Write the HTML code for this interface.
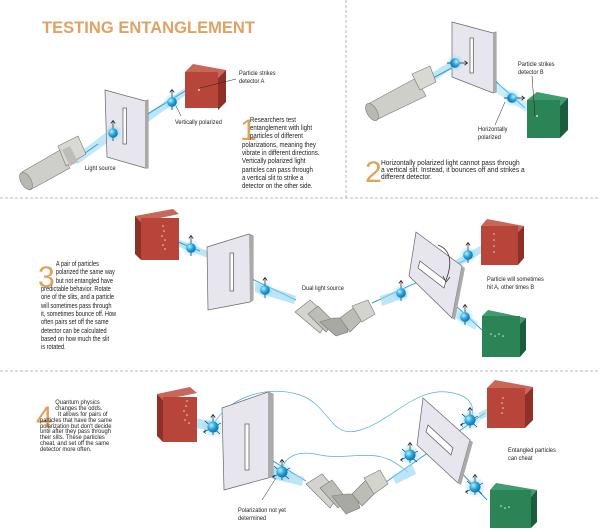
<!DOCTYPE html>
<html><head><meta charset="utf-8"><style>
html,body{margin:0;padding:0;background:#fff;}
svg{display:block;}
text{font-family:"Liberation Sans Narrow","Liberation Sans",sans-serif;fill:#222;}
.t{font-size:7.6px;}
.s{font-size:6.4px;}
.n{font-family:"Liberation Sans",sans-serif;fill:#e0a15c;font-size:30px;}
</style></head><body>
<svg width="600" height="530" viewBox="0 0 600 530" xmlns="http://www.w3.org/2000/svg">
<defs>
<radialGradient id="pg" cx="0.35" cy="0.35" r="0.7"><stop offset="0" stop-color="#bff0ff"/><stop offset="0.5" stop-color="#2aa8e0"/><stop offset="1" stop-color="#0a6fa8"/></radialGradient>
<radialGradient id="glow" cx="0.5" cy="0.5" r="0.5"><stop offset="0" stop-color="#7fd4f5" stop-opacity="0.9"/><stop offset="1" stop-color="#7fd4f5" stop-opacity="0"/></radialGradient>
<g id="p"><circle r="9" fill="url(#glow)"/><line x1="0" y1="-12" x2="0" y2="8" stroke="#222" stroke-width="0.7"/><path d="M-2.2,-9.5 L0,-12.5 L2.2,-9.5" fill="none" stroke="#222" stroke-width="0.8"/><circle r="4.8" fill="url(#pg)"/></g>
<g id="q"><circle r="11" fill="url(#glow)"/><line x1="0" y1="-12" x2="0" y2="8" stroke="#222" stroke-width="0.7"/><path d="M-2.2,-9.5 L0,-12.5 L2.2,-9.5" fill="none" stroke="#222" stroke-width="0.8"/><line x1="-9" y1="5" x2="8" y2="-4" stroke="#222" stroke-width="0.6"/><path d="M-7,6.5 L-9.5,5 L-7,3" fill="none" stroke="#222" stroke-width="0.7"/><line x1="-8" y1="-6" x2="7" y2="7" stroke="#222" stroke-width="0.6"/><circle r="5.5" fill="url(#pg)"/></g>
</defs>

<g stroke="#9aa" stroke-width="0.8" stroke-dasharray="3,2" fill="none">
<line x1="0" y1="198" x2="600" y2="198"/>
<line x1="0" y1="371" x2="600" y2="371"/>
<line x1="346" y1="0" x2="346" y2="198"/>
</g>

<!-- ===== Panel 1 ===== -->
<text x="42" y="33" textLength="213" lengthAdjust="spacingAndGlyphs" style="font-family:'Liberation Sans',sans-serif;font-weight:bold;font-size:16.5px;fill:#e0a264">TESTING ENTANGLEMENT</text>
<polygon points="72,158 112,128 114,138 78,164" fill="#8fd6f3" opacity="0.55"/>
<line x1="78" y1="158" x2="98" y2="144" stroke="#2a9dd6" stroke-width="1"/>
<polygon points="145,115 188,86 190,92 148,122" fill="#8fd6f3" opacity="0.6"/>
<line x1="125" y1="128" x2="190" y2="88" stroke="#2a9dd6" stroke-width="1"/>
<g>
<polygon points="22,172 60,150 70,168 30,190" fill="#cfcfc9" stroke="#777" stroke-width="0.6"/>
<ellipse cx="26" cy="181" rx="5" ry="9.5" transform="rotate(-30 26 181)" fill="#b9b9b3" stroke="#777" stroke-width="0.6"/>
<polygon points="58,146 78,136 86,154 66,166" fill="#d9d9d3" stroke="#777" stroke-width="0.6"/>
<polygon points="62,150 70,146 78,162 70,166" fill="#bdbdb7"/>
</g>
<polygon points="105,90 145,101 148,100 148,168 145,168 107,157" fill="#e7e6ee" stroke="#666" stroke-width="0.7"/>
<polygon points="145,101 148,100 148,168 145,168" fill="#aaa"/>
<rect x="123" y="108" width="3.5" height="36" fill="#fff" stroke="#555" stroke-width="0.7"/>
<use href="#p" x="113" y="133"/>
<use href="#p" x="172" y="102"/>
<polygon points="185,72 193,64 226,70 218,78" fill="#c9665a"/>
<polygon points="218,78 226,70 226,102 218,110" fill="#8e3028"/>
<rect x="185" y="72" width="33" height="36" fill="#b8453a"/>
<circle cx="199" cy="90" r="0.9" fill="#fff"/>
<line x1="200" y1="88" x2="236" y2="79" stroke="#222" stroke-width="0.5"/>
<line x1="176" y1="106" x2="181" y2="116" stroke="#222" stroke-width="0.5"/>
<g transform="matrix(0.88,0,0,1,28.7,0)">
<text class="s" x="239" y="75">Particle strikes</text>
<text class="s" x="239" y="83">detector A</text>
</g>
<g transform="matrix(0.88,0,0,1,21,0)"><text class="s" x="175" y="124">Vertically polarized</text></g>
<g transform="matrix(0.88,0,0,1,10.2,0)"><text class="s" x="85" y="170">Light source</text></g>
<text class="n" x="240" y="140">1</text>
<g transform="matrix(0.8,0,0,1,48.4,0)">
<text class="t" x="252" y="122">Researchers test</text>
<text class="t" x="252" y="130">entanglement with light</text>
<text class="t" x="252" y="138">particles of different</text>
<text class="t" x="242" y="147">polarizations, meaning they</text>
<text class="t" x="242" y="155">vibrate in different directions.</text>
<text class="t" x="242" y="163">Vertically polarized light</text>
<text class="t" x="242" y="172">particles can pass through</text>
<text class="t" x="242" y="180">a vertical slit to strike a</text>
<text class="t" x="242" y="188">detector on the other side.</text>
</g>

<!-- ===== Panel 2 ===== -->
<polygon points="418,82 452,60 454,68 423,88" fill="#8fd6f3" opacity="0.55"/>
<line x1="422" y1="84" x2="470" y2="58" stroke="#2a9dd6" stroke-width="1"/>
<line x1="470" y1="58" x2="525" y2="108" stroke="#2a9dd6" stroke-width="1"/>
<polygon points="460,60 530,104 526,112 458,68" fill="#8fd6f3" opacity="0.45"/>
<polygon points="368,104 416,78 426,96 376,120" fill="#cfcfc9" stroke="#777" stroke-width="0.6"/>
<ellipse cx="372" cy="112" rx="5" ry="9.5" transform="rotate(-30 372 112)" fill="#b9b9b3" stroke="#777" stroke-width="0.6"/>
<polygon points="412,74 430,66 436,82 420,90" fill="#d9d9d3" stroke="#777" stroke-width="0.6"/>
<polygon points="452,22 493,33 496,32 496,92 493,93 452,77" fill="#e7e6ee" stroke="#666" stroke-width="0.7"/>
<polygon points="493,33 496,32 496,92 493,93" fill="#aaa"/>
<rect x="470" y="38" width="3.3" height="35" fill="#fff" stroke="#555" stroke-width="0.7"/>
<use href="#p" x="455" y="63" transform="rotate(90 455 63)"/>
<use href="#p" x="512" y="98" transform="rotate(90 512 98)"/>
<polygon points="527,100 537,92 568,98 560,106" fill="#3f9c6e"/>
<polygon points="560,106 568,98 568,130 560,138" fill="#1b5e3e"/>
<rect x="527" y="100" width="33" height="38" fill="#2a8456"/>
<circle cx="537" cy="116" r="0.9" fill="#fff"/>
<line x1="535" y1="116" x2="532" y2="76" stroke="#222" stroke-width="0.5"/>
<line x1="505" y1="102" x2="495" y2="125" stroke="#222" stroke-width="0.5"/>
<g transform="matrix(0.88,0,0,1,62.2,0)">
<text class="s" x="518" y="66">Particle strikes</text>
<text class="s" x="518" y="74">detector B</text>
</g>
<g transform="matrix(0.88,0,0,1,57.4,0)">
<text class="s" x="478" y="131">Horizontally</text>
<text class="s" x="478" y="139">polarized</text>
</g>
<text class="n" x="365" y="182">2</text>
<g transform="matrix(0.87,0,0,1,49.5,0)">
<text class="t" x="381" y="165">Horizontally polarized light cannot pass through</text>
<text class="t" x="381" y="172">a vertical slit. Instead, it bounces off and strikes a</text>
<text class="t" x="381" y="179">different detector.</text>
</g>

<!-- ===== Panel 3 ===== -->
<text class="n" x="38" y="287">3</text>
<g transform="matrix(0.74,0,0,1,10.7,0)">
<text class="t" x="61" y="266">A pair of particles</text>
<text class="t" x="61" y="274">polarized the same way</text>
<text class="t" x="61" y="283">but not entangled have</text>
<text class="t" x="41" y="291">predictable behavior. Rotate</text>
<text class="t" x="41" y="299">one of the slits, and a particle</text>
<text class="t" x="41" y="308">will sometimes pass through</text>
<text class="t" x="41" y="316">it, sometimes bounce off. How</text>
<text class="t" x="41" y="324">often pairs set off the same</text>
<text class="t" x="41" y="333">detector can be calculated</text>
<text class="t" x="41" y="341">based on how much the slit</text>
<text class="t" x="41" y="349">is rotated.</text>
</g>
<polygon points="175,238 210,252 208,258 176,246" fill="#8fd6f3" opacity="0.6"/>
<line x1="178" y1="242" x2="200" y2="251" stroke="#2a9dd6" stroke-width="1"/>
<line x1="233" y1="270" x2="296" y2="300" stroke="#2a9dd6" stroke-width="1"/>
<polygon points="255,282 296,296 294,304 255,292" fill="#8fd6f3" opacity="0.6"/>
<line x1="372" y1="303" x2="470" y2="258" stroke="#2a9dd6" stroke-width="1"/>
<polygon points="380,296 405,288 407,297 382,306" fill="#8fd6f3" opacity="0.6"/>
<polygon points="452,262 482,245 484,252 455,268" fill="#8fd6f3" opacity="0.6"/>
<line x1="430" y1="282" x2="482" y2="330" stroke="#2a9dd6" stroke-width="1"/>
<polygon points="450,305 478,322 475,330 448,313" fill="#8fd6f3" opacity="0.5"/>
<polygon points="135,216 173,209 179,214 141,222" fill="#c9665a"/>
<polygon points="135,216 141,222 141,260 135,254" fill="#8e3028"/>
<rect x="141" y="218" width="38" height="42" fill="#b8453a"/>
<g fill="#f3d2cc"><circle cx="163" cy="226" r="0.8"/><circle cx="164" cy="231" r="0.8"/><circle cx="162" cy="236" r="0.8"/><circle cx="165" cy="240" r="0.8"/><circle cx="163" cy="245" r="0.8"/><circle cx="165" cy="249" r="0.8"/></g>
<use href="#p" x="191" y="248"/>
<polygon points="207,247 249,234 253,236 253,300 250,302 208,310" fill="#e7e6ee" stroke="#666" stroke-width="0.7"/>
<polygon points="249,234 253,236 253,300 250,302" fill="#aaa"/>
<rect x="230" y="253" width="3.5" height="38" fill="#fff" stroke="#555" stroke-width="0.7"/>
<use href="#p" x="265" y="290"/>
<g transform="matrix(0.88,0,0,1,36.2,0)"><text class="s" x="302" y="290">Dual light source</text></g>
<g stroke="#777" stroke-width="0.6">
<polygon points="295,312 310,300 330,318 320,333" fill="#d4d4ce"/>
<polygon points="308,314 318,306 334,322 326,332" fill="#bdbdb7"/>
<polygon points="320,322 333,318 345,318 348,332 336,336" fill="#a9a9a3"/>
<polygon points="340,318 356,306 366,316 350,332" fill="#bdbdb7"/>
<polygon points="352,306 368,300 375,314 362,322" fill="#d4d4ce"/>
</g>
<use href="#p" x="401" y="293"/>
<polygon points="416,232 462,266 452,318 409,276" fill="#e7e6ee" stroke="#666" stroke-width="0.7"/>
<polygon points="462,266 465,268 455,320 452,318" fill="#aaa"/>
<polygon points="420,261 446,281 444,288 418,268" fill="#fff" stroke="#555" stroke-width="0.7"/>
<path d="M438,245 C452,250 452,265 446,280" fill="none" stroke="#333" stroke-width="0.8"/>
<path d="M443,276 L446,282 L450,277" fill="none" stroke="#333" stroke-width="0.8"/>
<use href="#p" x="468" y="255"/>
<polygon points="481,226 487,219 524,226 518,232" fill="#c9665a"/>
<polygon points="518,232 524,226 524,258 518,265" fill="#8e3028"/>
<rect x="481" y="226" width="37" height="39" fill="#b8453a"/>
<g fill="#f3d2cc"><circle cx="494" cy="234" r="0.8"/><circle cx="494" cy="240" r="0.8"/><circle cx="494" cy="246" r="0.8"/><circle cx="494" cy="252" r="0.8"/></g>
<g transform="matrix(0.88,0,0,1,58.4,0)">
<text class="s" x="487" y="281">Particle will sometimes</text>
<text class="s" x="487" y="289">hit A, other times B</text>
</g>
<use href="#p" x="465" y="317"/>
<polygon points="482,316 488,310 526,318 520,324" fill="#3f9c6e"/>
<polygon points="520,324 526,318 526,350 520,357" fill="#1b5e3e"/>
<rect x="482" y="316" width="38" height="41" fill="#2a8456"/>
<g fill="#d9f2e4"><circle cx="491" cy="334" r="0.8"/><circle cx="495" cy="336" r="0.8"/><circle cx="499" cy="334" r="0.8"/><circle cx="503" cy="336" r="0.8"/></g>

<!-- ===== Panel 4 ===== -->
<text class="n" x="36" y="427">4</text>
<g transform="matrix(0.9,0,0,1,4,0)">
<text class="s" x="57" y="404">Quantum physics</text>
<text class="s" x="57" y="410">changes the odds.</text>
<text class="s" x="60" y="416">It allows for pairs of</text>
<text class="s" x="40" y="422">particles that have the same</text>
<text class="s" x="40" y="428">polarization but don't decide</text>
<text class="s" x="40" y="433">until after they pass through</text>
<text class="s" x="40" y="439">their slits. These particles</text>
<text class="s" x="40" y="445">cheat, and set off the same</text>
<text class="s" x="40" y="451">detector more often.</text>
</g>
<path d="M213,425 C230,395 270,385 300,395 C330,405 330,440 360,430 C395,420 420,380 460,395 C480,403 470,420 470,420" fill="none" stroke="#4ab3dc" stroke-width="0.7"/>
<path d="M282,470 C285,455 300,450 320,455 C345,460 370,450 390,460 C400,465 405,470 408,472" fill="none" stroke="#4ab3dc" stroke-width="0.7"/>
<polygon points="195,418 215,422 214,432 196,428" fill="#8fd6f3" opacity="0.6"/>
<line x1="248" y1="446" x2="306" y2="481" stroke="#2a9dd6" stroke-width="1"/>
<polygon points="270,466 304,477 302,486 270,478" fill="#8fd6f3" opacity="0.6"/>
<line x1="386" y1="482" x2="485" y2="413" stroke="#2a9dd6" stroke-width="1"/>
<polygon points="392,476 412,464 416,474 396,484" fill="#8fd6f3" opacity="0.6"/>
<line x1="440" y1="450" x2="487" y2="500" stroke="#2a9dd6" stroke-width="1"/>
<polygon points="157,394 190,387 197,393 163,400" fill="#c9665a"/>
<polygon points="157,394 163,400 163,442 157,436" fill="#8e3028"/>
<rect x="163" y="397" width="34" height="45" fill="#b8453a"/>
<g fill="#f3d2cc"><circle cx="187" cy="401" r="0.8"/><circle cx="186" cy="406" r="0.8"/><circle cx="184" cy="411" r="0.8"/><circle cx="187" cy="415" r="0.8"/><circle cx="185" cy="420" r="0.8"/><circle cx="189" cy="423" r="0.8"/></g>
<use href="#q" x="213" y="427"/>
<polygon points="222,408 268,392 273,394 273,476 268,478 224,490" fill="#e7e6ee" stroke="#666" stroke-width="0.7"/>
<polygon points="268,392 273,394 273,476 268,478" fill="#aaa"/>
<rect x="245" y="424" width="4" height="46" fill="#fff" stroke="#555" stroke-width="0.7"/>
<use href="#q" x="282" y="472"/>
<line x1="276" y1="478" x2="262" y2="500" stroke="#222" stroke-width="0.5"/>
<g transform="matrix(0.88,0,0,1,28.6,0)">
<text class="s" x="238" y="512">Polarization not yet</text>
<text class="s" x="238" y="520">determined</text>
</g>
<g stroke="#777" stroke-width="0.6">
<polygon points="306,484 322,474 340,494 330,508" fill="#d4d4ce"/>
<polygon points="320,488 332,480 346,498 338,508" fill="#bdbdb7"/>
<polygon points="332,496 346,494 356,494 360,508 346,514" fill="#a9a9a3"/>
<polygon points="352,494 368,478 380,488 362,506" fill="#bdbdb7"/>
<polygon points="364,478 380,470 388,484 374,494" fill="#d4d4ce"/>
</g>
<use href="#q" x="410" y="455"/>
<polygon points="423,398 470,440 458,483 417,445" fill="#e7e6ee" stroke="#666" stroke-width="0.7"/>
<polygon points="470,440 473,442 461,485 458,483" fill="#aaa"/>
<polygon points="428,425 453,448 451,455 426,432" fill="#fff" stroke="#555" stroke-width="0.7"/>
<use href="#q" x="470" y="420"/>
<polygon points="478,413 492,406 494,413 480,420" fill="#8fd6f3" opacity="0.6"/>
<polygon points="487,388 495,380 533,387 525,395" fill="#c9665a"/>
<polygon points="525,395 533,387 533,420 525,428" fill="#8e3028"/>
<rect x="487" y="388" width="38" height="40" fill="#b8453a"/>
<g fill="#f3d2cc"><circle cx="503" cy="398" r="0.8"/><circle cx="502" cy="403" r="0.8"/><circle cx="503" cy="408" r="0.8"/><circle cx="502" cy="413" r="0.8"/></g>
<g transform="matrix(0.88,0,0,1,61,0)">
<text class="s" x="508" y="452">Entangled particles</text>
<text class="s" x="508" y="460">can cheat</text>
</g>
<use href="#q" x="475" y="487"/>
<polygon points="490,490 496,483 537,490 531,497" fill="#3f9c6e"/>
<polygon points="531,497 537,490 537,522 531,528" fill="#1b5e3e"/>
<rect x="490" y="490" width="41" height="38" fill="#2a8456"/>
<g fill="#d9f2e4"><circle cx="501" cy="506" r="0.8"/><circle cx="505" cy="508" r="0.8"/><circle cx="509" cy="507" r="0.8"/></g>
</svg>
</body></html>
